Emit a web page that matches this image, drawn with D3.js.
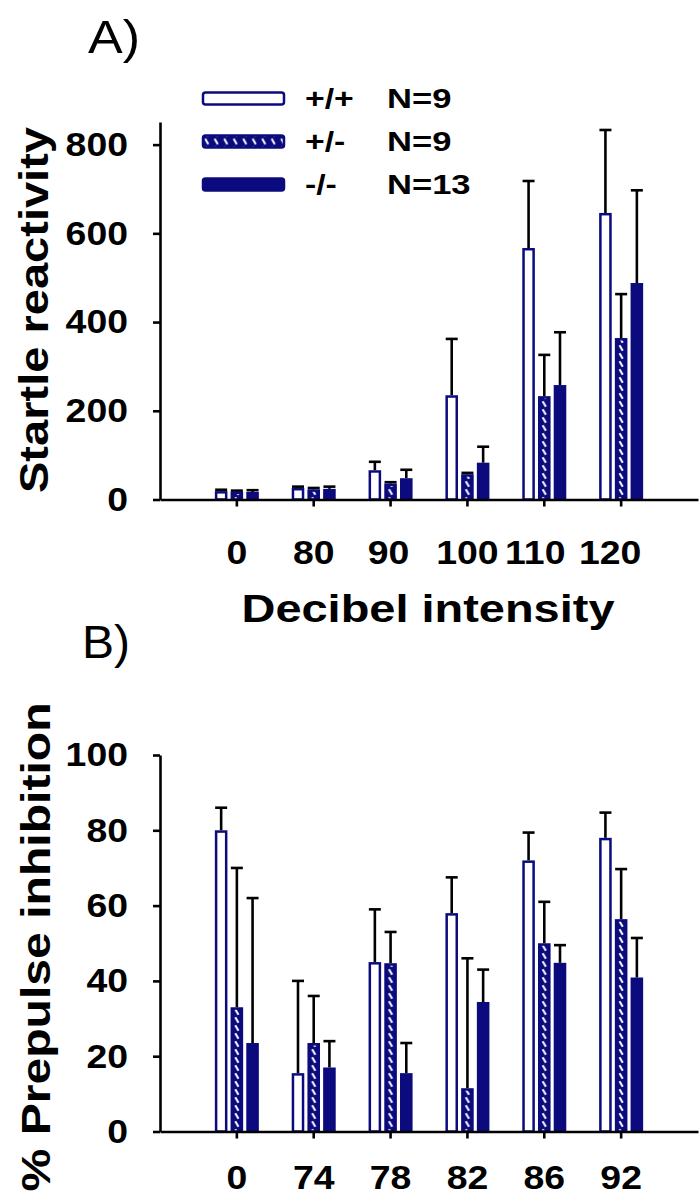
<!DOCTYPE html>
<html>
<head>
<meta charset="utf-8">
<script src="https://cdn.jsdelivr.net/npm/d3@7"></script>
<style>
  body { margin: 0; background: #fff; }
  svg { display: block; }
  text { font-family: "Liberation Sans", Arial, sans-serif; }
</style>
</head>
<body>
<svg id="chart" width="700" height="1201"></svg>
<script>
// genotype groups
var seriesKeys = ["+/+", "+/-", "-/-"];
var seriesN = ["N=9", "N=9", "N=13"];

// A) startle reactivity by decibel intensity
var startleLevels = ["0", "80", "90", "100", "110", "120"];
var startleWT = [19, 26, 66, 235, 567, 646];
var startleWTErr = [3, 3, 19, 127, 151, 187];
var startleHet = [18, 23, 36, 57, 233, 364];
var startleHetErr = [2, 3, 3, 3, 93, 99];
var startleKO = [17, 24, 48, 83, 258, 488];
var startleKOErr = [4, 5, 19, 36, 119, 209];
var startleTicks = [0, 200, 400, 600, 800];

// B) % prepulse inhibition by prepulse intensity
var ppiLevels = ["0", "74", "78", "82", "86", "92"];
var ppiWT = [80, 15.5, 45, 58, 72, 78];
var ppiWTErr = [6, 24.5, 14, 9.5, 7.4, 6.7];
var ppiHet = [33, 23.5, 44.7, 11.5, 50, 56.4];
var ppiHetErr = [37, 12.5, 8.3, 34.5, 11, 13.3];
var ppiKO = [23.5, 17, 15.5, 34.4, 44.8, 40.9];
var ppiKOErr = [38.5, 7, 8, 8.6, 4.7, 10.5];
var ppiTicks = [0, 20, 40, 60, 80, 100];

var NAVY = "#0b0b7d";
var svg = d3.select("#chart");
var defs = svg.append("defs");

function hatch(id, x0, y0, w) {
  var p = defs.append("pattern")
    .attr("id", id)
    .attr("patternUnits", "userSpaceOnUse")
    .attr("x", x0).attr("y", y0)
    .attr("width", w).attr("height", 8);
  p.append("rect").attr("width", w).attr("height", 8).attr("fill", NAVY);
  p.append("line")
    .attr("x1", w / 2 - 1.6).attr("y1", 1.3)
    .attr("x2", w / 2 + 1.6).attr("y2", 6.7)
    .attr("stroke", "#fff").attr("stroke-width", 2);
  return "url(#" + id + ")";
}

// widen text a bit, the source lettering is broad
function stretch(sel, k) {
  sel.each(function() {
    var w = this.getComputedTextLength();
    d3.select(this).attr("textLength", w * k).attr("lengthAdjust", "spacingAndGlyphs");
  });
}

function panel(name, levels, series, ticks, y0, yTop, yMax, pad, nudge) {
  var x = d3.scaleBand().domain(levels).range([160, 698]).paddingOuter(0.5).paddingInner(0);
  var inner = d3.scaleBand().domain(seriesKeys).range([-22, 22]).paddingInner(0.2);
  var y = d3.scaleLinear().domain([0, yMax]).range([y0, yTop]);
  var bw = inner.bandwidth();
  var sw = 2.5;

  var rows = [];
  levels.forEach(function(l, i) {
    series.forEach(function(s, j) {
      rows.push({ l: l, i: i, j: j, v: s.values[i], e: s.errs[i] });
    });
  });

  var cx = function(d) { return x(d.l) + x.bandwidth() / 2 + inner(seriesKeys[d.j]) + bw / 2; };
  var g = svg.append("g");

  // error bars first (upper only)
  var eb = g.selectAll(".err").data(rows).enter().append("g").attr("class", "err")
    .attr("stroke", "#000").attr("stroke-width", 2.6);
  eb.append("line")
    .attr("x1", cx).attr("x2", cx)
    .attr("y1", function(d) { return y(d.v); })
    .attr("y2", function(d) { return y(d.v + d.e); });
  eb.append("line")
    .attr("x1", function(d) { return cx(d) - 6; })
    .attr("x2", function(d) { return cx(d) + 6; })
    .attr("y1", function(d) { return y(d.v + d.e); })
    .attr("y2", function(d) { return y(d.v + d.e); });

  g.selectAll(".bar").data(rows).enter().append("rect").attr("class", "bar")
    .attr("x", function(d) { return cx(d) - bw / 2 + sw / 2; })
    .attr("width", bw - sw)
    .attr("y", function(d) { return y(d.v) + sw / 2; })
    .attr("height", function(d) { return Math.max(0, y0 - y(d.v) - sw / 2); })
    .attr("stroke", NAVY).attr("stroke-width", sw)
    .attr("fill", function(d) {
      if (d.j === 0) return "#fff";
      if (d.j === 2) return NAVY;
      return hatch("h-" + name + "-" + d.i, cx(d) - 4, 0, 8);
    });

  // axes
  var gx = svg.append("g").attr("transform", "translate(0," + y0 + ")")
    .call(d3.axisBottom(x).tickSize(7).tickSizeOuter(0).tickPadding(pad));
  var gy = svg.append("g").attr("transform", "translate(160,0)")
    .call(d3.axisLeft(y).tickValues(ticks).tickSize(7).tickSizeOuter(0).tickPadding(25));
  [gx, gy].forEach(function(a) {
    a.selectAll("path, line").attr("stroke", "#000").attr("stroke-width", 2.6);
    a.selectAll("text").attr("font-size", 34).attr("font-weight", "bold").attr("fill", "#000");
    stretch(a.selectAll("text"), 1.1);
  });
  // the last labels sit a little left of their ticks in the source
  if (nudge) gx.selectAll(".tick text").attr("dx", function(d, i) { return nudge[i] || 0; });
}

panel("a", startleLevels, [
  { values: startleWT, errs: startleWTErr },
  { values: startleHet, errs: startleHetErr },
  { values: startleKO, errs: startleKOErr }
], startleTicks, 499.5, 122, 851, 33, [0, 0, -2, 0, -9, -11]);

panel("b", ppiLevels, [
  { values: ppiWT, errs: ppiWTErr },
  { values: ppiHet, errs: ppiHetErr },
  { values: ppiKO, errs: ppiKOErr }
], ppiTicks, 1131.5, 755, 100, 26);

// titles
function label(txt, x, y, size, weight, len, rot) {
  var t = svg.append("text")
    .attr("font-size", size).attr("font-weight", weight).attr("fill", "#000")
    .text(txt);
  if (rot) {
    t.attr("transform", "translate(" + x + "," + y + ") rotate(-90)").attr("text-anchor", "middle");
  } else {
    t.attr("x", x).attr("y", y);
  }
  if (len) t.attr("textLength", len).attr("lengthAdjust", "spacingAndGlyphs");
  return t;
}

label("A)", 88, 53, 46, "normal", 52);
label("B)", 82, 658, 46, "normal", 48);
label("Startle reactivity", 48, 310, 41, "bold", 366, true);
label("Decibel intensity", 428, 622, 38, "bold", 373).attr("text-anchor", "middle");
label("% Prepulse inhibition", 50, 947, 41, "bold", 489, true);

// legend
var legY = [98.5, 141.5, 184.5];
var leg = svg.append("g");
seriesKeys.forEach(function(k, j) {
  var fill = j === 0 ? "#fff" : j === 2 ? NAVY : hatch("h-leg", 202, legY[j] - 4, 9.5);
  leg.append("rect")
    .attr("x", 203).attr("y", legY[j] - 6)
    .attr("width", 81).attr("height", 12).attr("rx", 2.5)
    .attr("fill", fill).attr("stroke", NAVY).attr("stroke-width", 2.5);
  var t1 = leg.append("text").attr("x", 305).attr("y", legY[j] + 9.5)
    .attr("font-size", 27).attr("font-weight", "bold").text(k);
  var t2 = leg.append("text").attr("x", 387).attr("y", legY[j] + 9.5)
    .attr("font-size", 27).attr("font-weight", "bold").text(seriesN[j]);
  stretch(t1, 1.25);
  stretch(t2, 1.28);
});
</script>
</body>
</html>
